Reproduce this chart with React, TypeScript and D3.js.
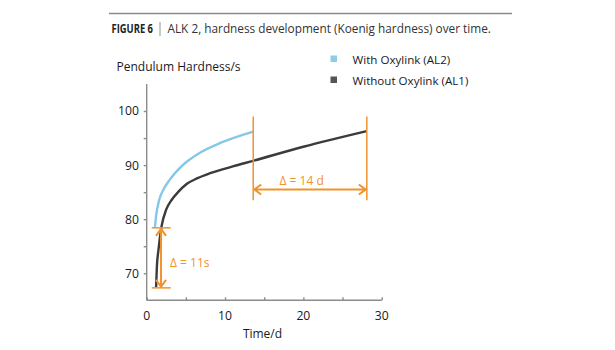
import { useEffect, useRef } from "react";
import * as d3 from "d3";

// With Oxylink (AL2)
const withDays = [1.05, 1.2, 1.6, 2.0, 3.0, 4.6, 6.8, 9.4, 13.6];
const withHardness = [78.5, 80.6, 83.6, 85.1, 87.4, 90.0, 92.3, 94.1, 96.2];

// Without Oxylink (AL1)
const withoutDays = [1.2, 1.3, 1.5, 1.9, 2.5, 3.2, 4.0, 5.1, 6.5, 8.1, 11.1, 13.6, 20, 28.1];
const withoutHardness = [67.4, 71.2, 74.3, 78.7, 81.8, 83.6, 85.0, 86.5, 87.6, 88.5, 89.8, 90.8, 93.4, 96.3];

const xTicks = [0, 10, 20, 30];
const yTicks = [70, 80, 90, 100];
const seriesNames = ["With Oxylink (AL2)", "Without Oxylink (AL1)"];
const seriesColors = ["#8ecdea", "#555555"];

// annotations (data units)
const deltaDaysStart = 13.6;
const deltaDaysEnd = 28.1;
const deltaDaysRange = [83.5, 99];
const deltaDaysArrowAt = 85.5;
const deltaHardLow = 67.3;
const deltaHardHigh = 78.4;
const deltaHardAt = 1.83;
const deltaHardSpan = [0.64, 3.07];

const orange = "#f0932d";
const font = "'Open Sans', sans-serif";

function App() {
    const svgRef = useRef<SVGSVGElement | null>(null);

    useEffect(() => {
        if (!svgRef.current) return;
        const svg = d3.select(svgRef.current);
        svg.selectAll("*").remove();

        const x = d3.scaleLinear().domain([0, 30]).range([146.7, 381.7]);
        const y = d3.scaleLinear().domain([65, 105]).range([300.3, 84]);

        // header
        svg.append("line")
            .attr("x1", 109).attr("x2", 512).attr("y1", 13.5).attr("y2", 13.5)
            .attr("stroke", "#8a8a8a").attr("stroke-width", 1.6);
        svg.append("text")
            .attr("x", 111.5).attr("y", 33)
            .attr("font-family", font).attr("font-weight", 700).attr("font-size", 12.5)
            .attr("textLength", 41.5).attr("lengthAdjust", "spacingAndGlyphs")
            .attr("fill", "#222").text("FIGURE 6");
        svg.append("line")
            .attr("x1", 160).attr("x2", 160).attr("y1", 22).attr("y2", 36)
            .attr("stroke", "#777").attr("stroke-width", 0.8);
        svg.append("text")
            .attr("x", 167.5).attr("y", 33)
            .attr("font-family", font).attr("font-size", 11.8)
            .attr("fill", "#333").text("ALK 2, hardness development (Koenig hardness) over time.");

        // axes
        const axisColor = "#8c8c8c";
        const yAxis = svg.append("g").attr("transform", `translate(${x(0)},0)`)
            .call(d3.axisLeft(y).tickValues(d3.range(70, 105, 5)).tickSize(3).tickFormat(() => ""));
        yAxis.select(".domain").attr("d", `M0,${y(105)}V${y(65)}`);
        const xAxis = svg.append("g").attr("transform", `translate(0,${y(65)})`)
            .call(d3.axisTop(x).tickValues(d3.range(0, 35, 5)).tickSize(3).tickFormat(() => ""));
        xAxis.select(".domain").attr("d", `M${x(0)},0H${x(30)}`);
        svg.selectAll(".domain, .tick line").attr("stroke", axisColor).attr("stroke-width", 1.4);

        svg.append("g").selectAll("text").data(yTicks).join("text")
            .attr("x", 139).attr("y", (d) => y(d) + 4.4)
            .attr("text-anchor", "end").attr("font-family", font).attr("font-size", 12.2)
            .attr("fill", "#1a1a1a").text((d) => d);
        svg.append("g").selectAll("text").data(xTicks).join("text")
            .attr("x", (d) => x(d)).attr("y", 319.5)
            .attr("text-anchor", "middle").attr("font-family", font).attr("font-size", 12.2)
            .attr("fill", "#1a1a1a").text((d) => d);
        svg.append("text")
            .attr("x", 262.5).attr("y", 337.5).attr("text-anchor", "middle")
            .attr("font-family", font).attr("font-size", 12).attr("fill", "#1a1a1a").text("Time/d");
        svg.append("text")
            .attr("x", 116.5).attr("y", 71).attr("font-family", font).attr("font-size", 12)
            .attr("fill", "#1a1a1a").text("Pendulum Hardness/s");

        // legend
        seriesNames.forEach((name, i) => {
            svg.append("rect")
                .attr("x", 330.5).attr("y", 55.5 + i * 21).attr("width", 6.5).attr("height", 6.5)
                .attr("fill", seriesColors[i]);
            svg.append("text")
                .attr("x", 352.5).attr("y", 63.5 + i * 21).attr("font-family", font).attr("font-size", 11.6)
                .attr("fill", "#1a1a1a").text(name);
        });

        // curves
        const line = d3.line<[number, number]>()
            .x((d) => x(d[0])).y((d) => y(d[1])).curve(d3.curveMonotoneX);
        const series = [
            d3.zip(withDays, withHardness) as [number, number][],
            d3.zip(withoutDays, withoutHardness) as [number, number][],
        ];
        const lineColors = ["#86c7e6", "#3b3b3b"];
        series.forEach((pts, i) => {
            svg.append("path").attr("d", line(pts)).attr("fill", "none")
                .attr("stroke", lineColors[i]).attr("stroke-width", 2.4)
                .attr("stroke-linecap", "butt");
        });

        // annotations
        const ann = svg.append("g").attr("stroke", orange).attr("stroke-width", 1.5).attr("fill", "none");
        [deltaDaysStart, deltaDaysEnd].forEach((d) => {
            ann.append("line").attr("x1", x(d)).attr("x2", x(d))
                .attr("y1", y(deltaDaysRange[1])).attr("y2", y(deltaDaysRange[0]));
        });
        const ay = y(deltaDaysArrowAt);
        const x1 = x(deltaDaysStart) + 1, x2 = x(deltaDaysEnd) - 1;
        ann.append("path").attr("stroke-width", 2)
            .attr("d", `M${x1},${ay}H${x2}M${x1 + 7},${ay - 5}L${x1},${ay}L${x1 + 7},${ay + 5}M${x2 - 7},${ay - 5}L${x2},${ay}L${x2 - 7},${ay + 5}`);

        [deltaHardLow, deltaHardHigh].forEach((v) => {
            ann.append("line").attr("x1", x(deltaHardSpan[0])).attr("x2", x(deltaHardSpan[1]))
                .attr("y1", y(v)).attr("y2", y(v));
        });
        const ax = x(deltaHardAt);
        const yTop = y(deltaHardHigh) + 1, yBot = y(deltaHardLow) - 1;
        ann.append("path").attr("stroke-width", 2)
            .attr("d", `M${ax},${yTop}V${yBot}M${ax - 5},${yTop + 7}L${ax},${yTop}L${ax + 5},${yTop + 7}M${ax - 5},${yBot - 7}L${ax},${yBot}L${ax + 5},${yBot - 7}`);

        svg.append("text")
            .attr("x", 279.5).attr("y", ay - 4.5)
            .attr("font-family", font).attr("font-size", 12)
            .attr("fill", orange).text("Δ = 14 d");
        svg.append("text")
            .attr("x", 170).attr("y", 267).attr("font-family", font).attr("font-size", 12)
            .attr("fill", orange).text("Δ = 11s");
    }, []);

    return (
        <div style={{ position: "absolute", left: 0, top: 0 }}>
            <svg ref={svgRef} width={615} height={350} style={{ display: "block", background: "#fff" }}></svg>
        </div>
    );
}

export default App;
